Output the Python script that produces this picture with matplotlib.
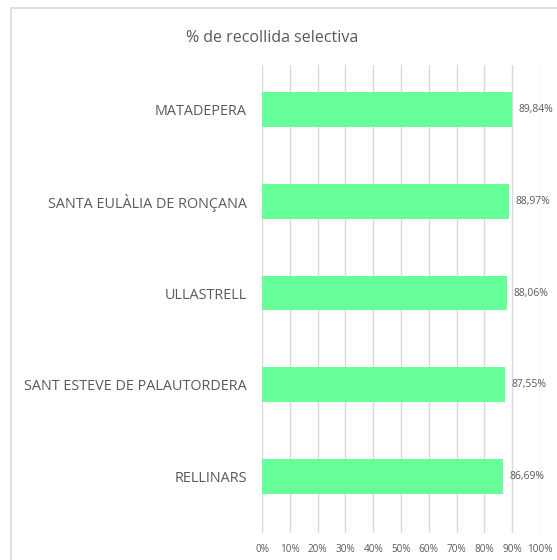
import matplotlib.pyplot as plt
from matplotlib.patches import Rectangle

municipis = ['MATADEPERA', 'SANTA EULÀLIA DE RONÇANA', 'ULLASTRELL',
             'SANT ESTEVE DE PALAUTORDERA', 'RELLINARS']
percentatges = [89.84, 88.97, 88.06, 87.55, 86.69]
ticks = [0, 10, 20, 30, 40, 50, 60, 70, 80, 90, 100]

W, H = 557, 560
fig = plt.figure(figsize=(W / 100, H / 100), dpi=100)
plt.rcParams['font.family'] = ['Open Sans', 'DejaVu Sans']

# marc exterior del gràfic
fig.patches.append(Rectangle((11 / W, -0.1), 1.2, 1 - 8 / H + 0.1,
                             transform=fig.transFigure, fill=False,
                             edgecolor='#d9d9d9', linewidth=1.2))

ax = fig.add_axes([262 / W, 1 - 533 / H, 278 / W, 468 / H])
y = list(range(len(municipis)))
ax.barh(y, percentatges, height=0.38, color='#66ff99', zorder=2)

for yi, v in zip(y, percentatges):
    ax.annotate(('%.2f%%' % v).replace('.', ','), (v, yi),
                xytext=(4.5, 0), textcoords='offset points',
                va='center', ha='left', fontsize=7.5, color='#595959')

ax.set_xlim(0, 100)
ax.set_ylim(len(municipis) - 1 + 0.62, -0.49)
ax.set_xticks(ticks)
ax.set_xticklabels(['%d%%' % t for t in ticks], fontsize=7.2, color='#595959')
ax.set_yticks(y)
ax.set_yticklabels(municipis, fontsize=10.4, color='#595959')
ax.tick_params(length=0, pad=8)
ax.tick_params(axis='y', pad=11)
ax.grid(axis='x', color='#d9d9d9', linewidth=1, zorder=0)
for s in ax.spines.values():
    s.set_visible(False)

fig.text(272 / W, 1 - 38 / H, '% de recollida selectiva',
         ha='center', va='center', fontsize=11.5, color='#595959')

fig.savefig('out.png', dpi=100, facecolor='white')
